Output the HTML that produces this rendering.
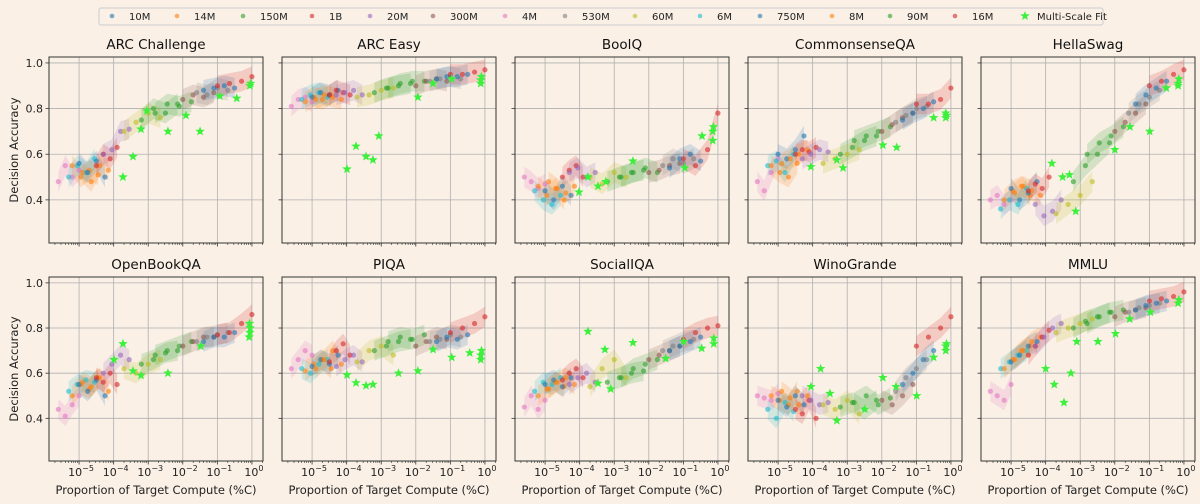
<!DOCTYPE html>
<html><head><meta charset="utf-8">
<style>
html,body{margin:0;padding:0;background:#faf0e6;}
svg{display:block;font-family:"DejaVu Sans","Liberation Sans",sans-serif;}
</style></head>
<body>
<svg id="chart" width="1200" height="504" viewBox="0 0 1200 504"></svg>
<script>
// ---- data ----
const seriesNames = ["10M","14M","150M","1B","20M","300M","4M","530M","60M","6M","750M","8M","90M","16M"];
const seriesColors = ["#1f77b4","#ff7f0e","#2ca02c","#d62728","#9467bd","#8c564b","#e377c2","#7f7f7f","#bcbd22","#17becf","#1f77b4","#ff7f0e","#2ca02c","#d62728"];
// model order used for checkpoint data below
const modelOrder = ["4M","6M","8M","10M","14M","16M","20M","60M","90M","150M","300M","530M","750M","1B"];
// log10 proportion of target compute for 4 checkpoints per model
const checkpointLogX = [
 [-5.6,-5.4,-5.2,-5.0],[-5.3,-5.05,-4.8,-4.55],[-5.2,-4.95,-4.7,-4.45],[-5.0,-4.75,-4.5,-4.25],
 [-4.9,-4.65,-4.4,-4.15],[-4.5,-4.3,-4.1,-3.9],[-4.3,-4.05,-3.8,-3.55],[-3.7,-3.35,-3.0,-2.65],
 [-3.2,-2.85,-2.5,-2.15],[-2.8,-2.45,-2.1,-1.75],[-2.0,-1.7,-1.4,-1.1],[-1.6,-1.3,-1.0,-0.7],
 [-1.4,-1.1,-0.8,-0.5],[-1.0,-0.65,-0.3,0.0]];
const taskNames = ["ARC Challenge","ARC Easy","BoolQ","CommonsenseQA","HellaSwag","OpenBookQA","PIQA","SocialIQA","WinoGrande","MMLU"];
const accArcC = [.48,.55,.50,.53, .50,.55,.52,.58, .55,.50,.53,.51, .56,.52,.57,.50, .52,.48,.55,.53, .55,.60,.58,.63, .60,.62,.70,.71, .70,.74,.78,.76, .75,.80,.78,.82, .78,.82,.81,.83, .84,.86,.85,.87, .87,.86,.89,.88, .88,.89,.90,.89, .90,.91,.92,.94];
const accArcE = [.81,.84,.85,.83, .84,.86,.87,.85, .83,.85,.84,.86, .85,.87,.86,.88, .84,.86,.85,.84, .86,.88,.87,.86, .86,.87,.88,.86, .85,.86,.88,.89, .87,.89,.90,.91, .89,.91,.92,.92, .90,.92,.93,.92, .92,.93,.94,.93, .93,.94,.94,.95, .95,.95,.96,.97];
const accBoolQ = [.50,.48,.45,.47, .44,.40,.38,.42, .46,.42,.45,.40, .44,.40,.46,.42, .48,.45,.43,.46, .50,.53,.55,.50, .52,.54,.50,.52, .50,.47,.52,.50, .48,.50,.52,.53, .50,.52,.54,.52, .52,.53,.55,.56, .55,.58,.56,.58, .54,.58,.60,.57, .58,.55,.62,.78];
const accCsqa = [.48,.44,.52,.58, .55,.57,.52,.60, .55,.52,.50,.56, .60,.58,.62,.68, .56,.58,.60,.62, .60,.62,.61,.63, .58,.60,.62,.61, .56,.58,.60,.62, .60,.63,.66,.68, .66,.68,.70,.72, .70,.73,.76,.78, .74,.77,.80,.81, .75,.78,.80,.83, .82,.82,.84,.89];
const accHella = [.40,.42,.38,.40, .36,.40,.38,.45, .40,.44,.46,.42, .45,.40,.43,.48, .43,.46,.44,.42, .44,.47,.45,.50, .38,.33,.35,.40, .34,.38,.42,.48, .48,.55,.60,.65, .60,.65,.68,.72, .70,.74,.78,.82, .78,.82,.85,.88, .82,.86,.89,.92, .90,.92,.95,.97];
const accObqa = [.44,.41,.46,.50, .52,.55,.57,.56, .50,.55,.53,.58, .55,.52,.57,.50, .56,.54,.58,.52, .58,.56,.60,.55, .60,.64,.68,.66, .62,.60,.64,.66, .64,.66,.69,.70, .68,.70,.72,.74, .72,.74,.76,.76, .74,.76,.77,.78, .74,.76,.76,.78, .77,.78,.82,.86];
const accPiqa = [.62,.66,.70,.68, .62,.60,.64,.66, .61,.64,.66,.62, .63,.66,.64,.68, .62,.66,.70,.64, .65,.70,.73,.68, .63,.66,.68,.65, .65,.70,.72,.68, .70,.72,.74,.75, .74,.76,.75,.77, .72,.74,.76,.75, .74,.75,.77,.76, .74,.76,.75,.77, .78,.80,.82,.85];
const accSiqa = [.45,.50,.44,.48, .52,.56,.55,.58, .50,.53,.56,.54, .55,.57,.54,.58, .53,.56,.58,.55, .57,.60,.62,.58, .55,.58,.60,.56, .54,.62,.66,.58, .56,.58,.60,.61, .58,.62,.64,.66, .66,.68,.70,.72, .70,.72,.74,.75, .70,.72,.74,.76, .75,.78,.80,.81];
const accWino = [.50,.49,.48,.51, .44,.40,.47,.43, .50,.48,.46,.52, .48,.45,.50,.46, .52,.49,.46,.50, .44,.42,.48,.40, .50,.48,.46,.47, .46,.44,.48,.42, .45,.47,.44,.48, .47,.50,.46,.49, .48,.46,.50,.55, .52,.58,.62,.66, .55,.60,.66,.70, .72,.76,.80,.85];
const accMmlu = [.52,.50,.48,.55, .62,.65,.68,.70, .62,.66,.70,.72, .65,.68,.72,.74, .66,.70,.74,.76, .68,.72,.76,.79, .72,.76,.80,.82, .78,.80,.82,.84, .80,.83,.85,.87, .82,.85,.87,.88, .85,.87,.88,.89, .87,.89,.90,.91, .88,.90,.91,.92, .92,.93,.94,.96];
const starXArcC=[-3.73,-3.44,-3.21,-3.04,-2.43,-1.91,-1.5,-0.93,-0.44,-0.06,-0.04], starYArcC=[.50,.59,.71,.79,.70,.77,.70,.855,.845,.90,.91];
const starXArcE=[-3.99,-3.73,-3.44,-3.24,-3.07,-1.94,-1.5,-0.96,-0.12,-0.12,-0.1], starYArcE=[.535,.635,.59,.575,.68,.85,.91,.93,.925,.91,.94];
const starXBoolQ=[-4.02,-3.76,-3.47,-3.24,-2.46,-0.96,-0.46,-0.15,-0.15,-0.13], starYBoolQ=[.434,.50,.46,.48,.57,.54,.68,.70,.66,.72];
const starXCsqa=[-4.05,-3.30,-3.12,-1.97,-1.57,-0.5,-0.15,-0.15,-0.13], starYCsqa=[.545,.575,.54,.64,.63,.76,.78,.76,.77];
const starXHella=[-3.82,-3.51,-3.31,-3.13,-2.0,-1.56,-0.99,-0.51,-0.17,-0.15,-0.17], starYHella=[.56,.50,.51,.35,.62,.72,.70,.89,.90,.93,.91];
const starXObqa=[-3.99,-3.73,-3.44,-3.21,-2.43,-1.48,-0.08,-0.06,-0.05,-0.07], starYObqa=[.66,.73,.61,.59,.60,.72,.76,.78,.80,.82];
const starXPiqa=[-3.99,-3.73,-3.44,-3.24,-2.5,-1.94,-1.5,-0.96,-0.44,-0.12,-0.12,-0.1], starYPiqa=[.592,.557,.545,.55,.60,.61,.705,.67,.69,.66,.68,.70];
const starXSiqa=[-3.76,-3.27,-2.46,-3.47,-3.1,-1.51,-0.99,-0.47,-0.12,-0.12], starYSiqa=[.785,.705,.735,.555,.53,.665,.74,.71,.755,.73];
const starXWino=[-4.05,-3.77,-3.5,-3.3,-2.49,-1.97,-1.59,-0.99,-0.5,-0.15,-0.15,-0.13], starYWino=[.54,.62,.51,.39,.44,.58,.54,.50,.67,.70,.72,.73];
const starXMmlu=[-4.0,-3.75,-3.47,-3.27,-3.1,-2.49,-1.98,-1.57,-0.97,-0.17,-0.15], starYMmlu=[.62,.55,.47,.60,.74,.74,.775,.84,.87,.91,.925];
const yTicks=[0.4,0.6,0.8,1.0];
const yTickLabels=["0.4","0.6","0.8","1.0"];
const xTickExp=[-5,-4,-3,-2,-1,0];

const panelAcc=[accArcC,accArcE,accBoolQ,accCsqa,accHella,accObqa,accPiqa,accSiqa,accWino,accMmlu];
const panelStarX=[starXArcC,starXArcE,starXBoolQ,starXCsqa,starXHella,starXObqa,starXPiqa,starXSiqa,starXWino,starXMmlu];
const panelStarY=[starYArcC,starYArcE,starYBoolQ,starYCsqa,starYHella,starYObqa,starYPiqa,starYSiqa,starYWino,starYMmlu];

// ---- layout ----
const NS="http://www.w3.org/2000/svg";
const svg=document.getElementById('chart');
function mk(tag,attrs,parent){const e=document.createElementNS(NS,tag);for(const k in attrs)e.setAttribute(k,attrs[k]);(parent||svg).appendChild(e);return e;}
const PW=214, colX=[49,282,515,748,981], rowY=[57,277], PH=[186,184];
const XMIN=-5.87, XMAX=0.32, YMIN=0.211, YMAX=1.026;
function starPath(cx,cy,r){let p="";for(let i=0;i<10;i++){const rr=i%2?r*0.42:r;const a=-Math.PI/2+i*Math.PI/5;p+=(i?"L":"M")+(cx+rr*Math.cos(a)).toFixed(1)+","+(cy+rr*Math.sin(a)).toFixed(1);}return p+"Z";}
function colorOfModel(m){return seriesColors[seriesNames.indexOf(m)];}

// legend
const lg=mk('g',{});


mk('rect',{x:99,y:8,width:1004,height:17,fill:'#faf0e6',stroke:'#cccccc','stroke-width':1,rx:2},lg);
const legX=[112,177,243,312,370,433,505,565,635,700,760,832,890,955];
seriesNames.forEach((n,i)=>{
  const g=mk('g',{},lg);
  
  
  mk('circle',{cx:legX[i],cy:16,r:2.3,fill:seriesColors[i],'fill-opacity':0.6},g);
  const t=mk('text',{x:legX[i]+17,y:20,'font-size':10,fill:'#222'},g);t.textContent=n;
});
const gs=mk('g',{},lg);


mk('path',{d:starPath(1025,16,5),fill:'#3cf03c'},gs);
const ts=mk('text',{x:1037,y:20,'font-size':10,fill:'#222'},gs);ts.textContent="Multi-Scale Fit";

taskNames.forEach((task,p)=>{
  const r=Math.floor(p/5), c=p%5;
  const x0=colX[c], y0=rowY[r], h=PH[r];
  const sx=v=>x0+(v-XMIN)/(XMAX-XMIN)*PW;
  const sy=v=>y0+(YMAX-v)/(YMAX-YMIN)*h;
  const g=mk('g',{});
  
  
  // grid
  yTicks.forEach(v=>{mk('line',{x1:x0,x2:x0+PW,y1:sy(v),y2:sy(v),stroke:'#b0b0b0','stroke-width':0.8},g);});
  xTickExp.forEach(v=>{mk('line',{x1:sx(v),x2:sx(v),y1:y0,y2:y0+h,stroke:'#b0b0b0','stroke-width':0.8},g);});
  const acc=panelAcc[p];
  // bands
  modelOrder.forEach((m,mi)=>{
    const xs=checkpointLogX[mi], ys=acc.slice(mi*4,mi*4+4);
    let top=xs.map((x,k)=>sx(x)+","+sy(ys[k]+0.045)), bot=xs.map((x,k)=>sx(x)+","+sy(ys[k]-0.045)).reverse();
    const band=mk('polygon',{points:top.concat(bot).join(" "),fill:colorOfModel(m),'fill-opacity':0.18},g);
    
    
  });
  // dots
  modelOrder.forEach((m,mi)=>{
    checkpointLogX[mi].forEach((x,k)=>{
      const d=mk('circle',{cx:sx(x),cy:sy(acc[mi*4+k]),r:2.6,fill:colorOfModel(m),'fill-opacity':0.6},g);
      
      
    });
  });
  // stars
  panelStarX[p].forEach((x,k)=>{
    const s=mk('path',{d:starPath(sx(x),sy(panelStarY[p][k]),5),fill:'#3cf03c'},g);
    
    
  });
  // frame
  mk('rect',{x:x0,y:y0,width:PW,height:h,fill:'none',stroke:'#333','stroke-width':1},g);
  // y ticks
  yTicks.forEach((v,i)=>{
    mk('line',{x1:x0-3.5,x2:x0,y1:sy(v),y2:sy(v),stroke:'#333','stroke-width':0.8},g);
    if(c===0){const t=mk('text',{x:x0-6,y:sy(v)+4,'font-size':11,'text-anchor':'end',fill:'#222'},g);t.textContent=yTickLabels[i];
      }
  });
  // x ticks incl minor
  for(let e=-6;e<=0;e++){
    for(let m=1;m<=9;m++){
      const v=e+Math.log10(m); if(v<XMIN||v>XMAX)continue;
      mk('line',{x1:sx(v),x2:sx(v),y1:y0+h,y2:y0+h+(m===1?3.5:2),stroke:'#333','stroke-width':m===1?0.8:0.6},g);
    }
  }
  if(r===1){
    xTickExp.forEach(v=>{
      const t=mk('text',{x:sx(v)+2,y:y0+h+15,'font-size':11,'text-anchor':'middle',fill:'#222'},g);
      
      t.appendChild(document.createTextNode('10'));
      const ts2=mk('tspan',{dy:-5,'font-size':8},t);ts2.textContent=String(v).replace('-','\u2212');
    });
    const xl=mk('text',{x:x0+PW/2,y:494,'font-size':11.5,'text-anchor':'middle',fill:'#222'},g);xl.textContent="Proportion of Target Compute (%C)";
    
  }
  if(c===0){
    const yl=mk('text',{x:0,y:0,'font-size':11.5,'text-anchor':'middle',fill:'#222',transform:`translate(18,${y0+h/2}) rotate(-90)`},g);yl.textContent="Decision Accuracy";
    
  }
  const tt=mk('text',{x:x0+PW/2,y:y0-8,'font-size':13.5,'text-anchor':'middle',fill:'#111'},g);tt.textContent=task;
  
});
</script>
</body></html>
